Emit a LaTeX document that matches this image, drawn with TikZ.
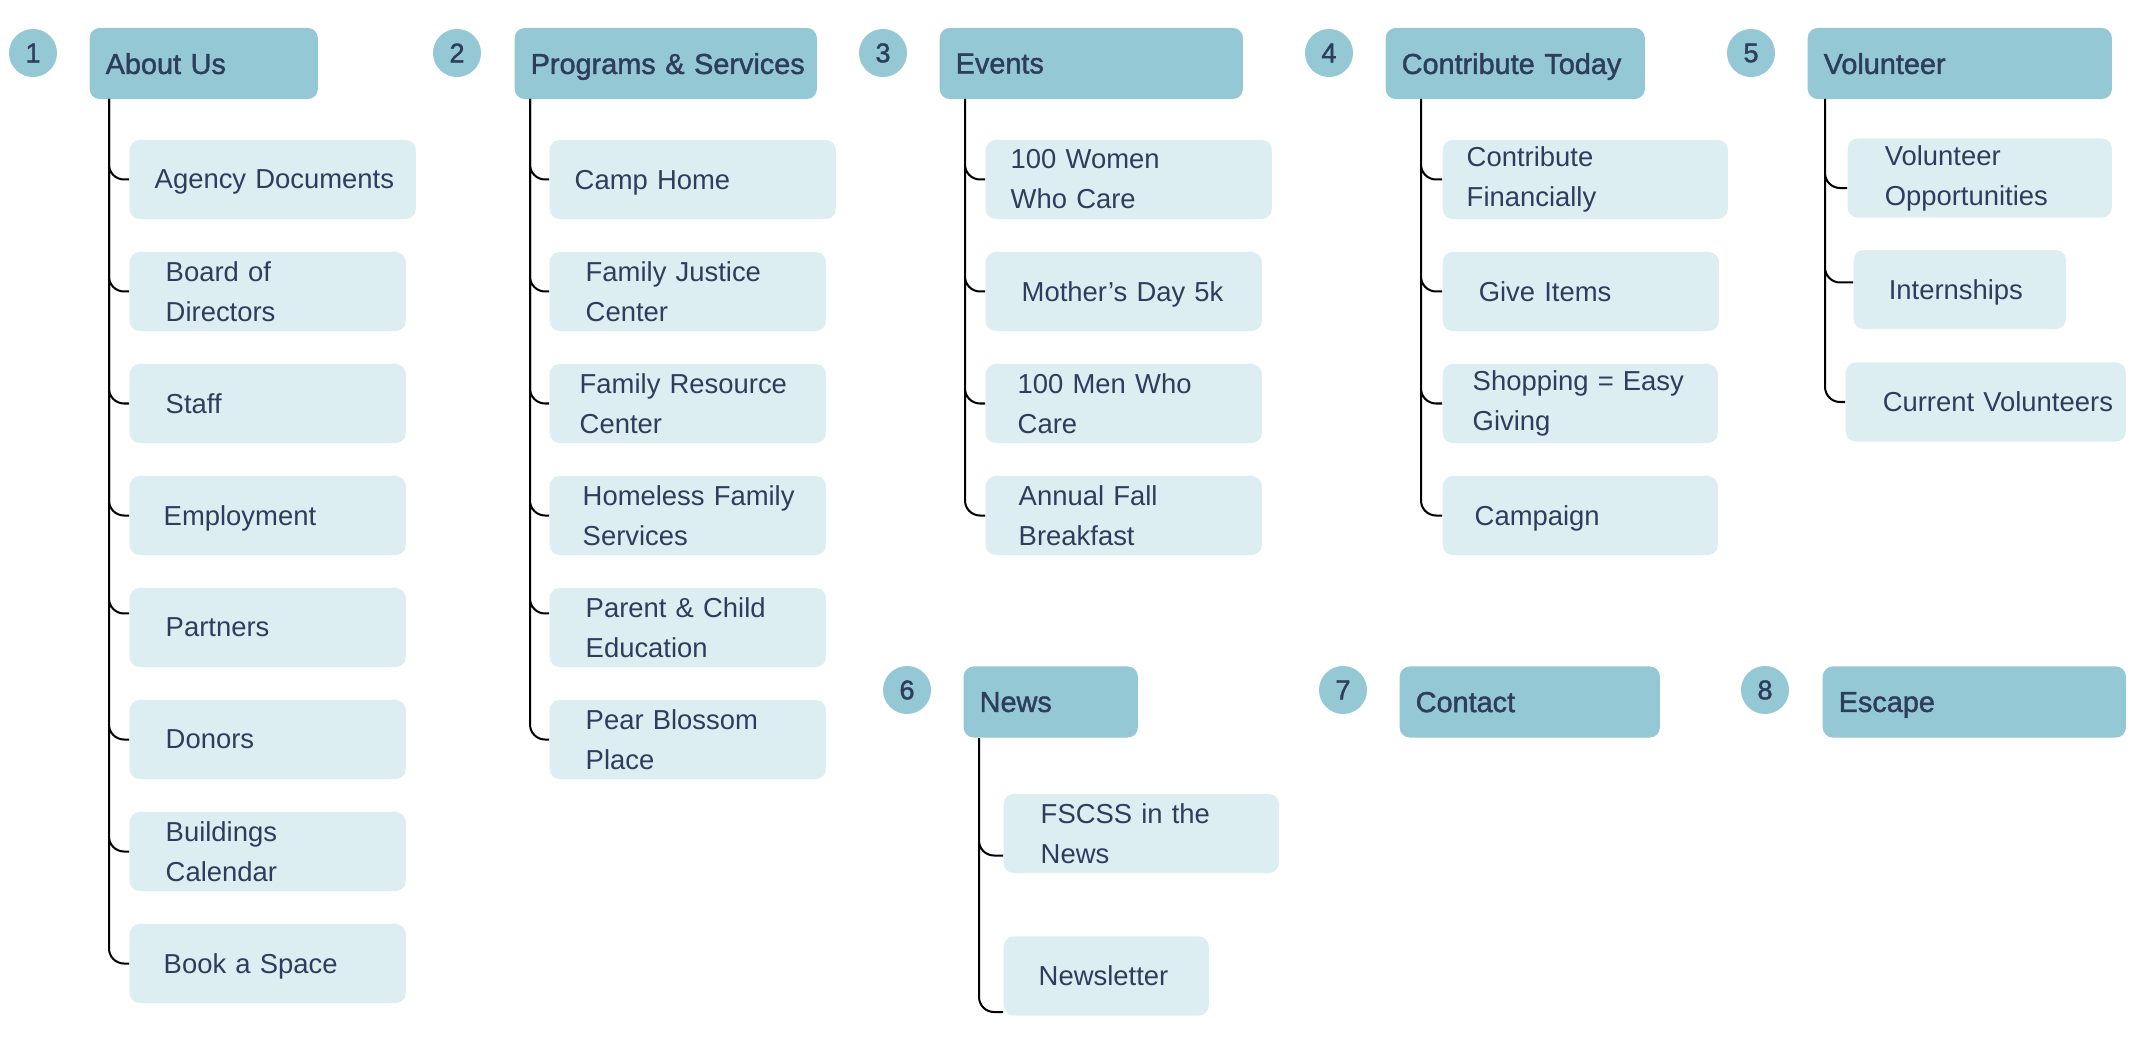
\documentclass[tikz,border=0pt]{standalone}
\usepackage{fontspec}
\setmainfont{Liberation Sans}
\newfontfamily\hdfont[FakeBold=1.5]{Liberation Sans}
\usepackage{tikz}
\definecolor{hdfill}{HTML}{93C8D4}
\definecolor{subfill}{HTML}{DDEEF2}
\definecolor{ink}{HTML}{2F3D5C}
\hyphenpenalty=10000
\begin{document}
\begin{tikzpicture}[x=0.01cm,y=-0.01cm]
\tikzstyle{num}=[circle, inner sep=0pt, fill=hdfill, text=ink, minimum size=0.48cm, font=\hdfont\fontsize{7.7pt}{9pt}\selectfont]
\tikzstyle{hd}=[rectangle, rounded corners=0.1cm, fill=hdfill, text=ink, minimum height=0.71cm, inner xsep=0.16cm, inner ysep=0pt, text depth=0pt, anchor=west, align=left, font=\hdfont\fontsize{8.2pt}{10pt}\selectfont]
\tikzstyle{sub}=[rectangle, rounded corners=0.1cm, fill=subfill, text=ink, minimum height=0.79cm, inner xsep=0.36cm, inner ysep=0pt, text width=2.04cm, anchor=west, align=left, font=\fontsize{7.8pt}{11.38pt}\selectfont]
\tikzstyle{one}=[text depth=0pt]
\tikzstyle{branch}=[line width=0.02cm, rounded corners=0.15cm]
\useasboundingbox (0,0) rectangle (2137,1055);
%1
\def\r{129};
\node[num] (n1) at (33,53) {1};
\node[hd, text width=1.96cm] (h1) at (89,63.5) {About Us};
\coordinate (t1) at (109,99);
\node[sub, one, inner xsep=0.25cm, text width=2.36cm] (a1) at (\r,179.5) {Agency~Documents};
\node[sub] (a2) at (\r,291.5) {Board of\\Directors};
\node[sub, one] (a3) at (\r,403.5) {Staff};
\node[sub, one, inner xsep=0.34cm, text width=2.08cm] (a4) at (\r,515.5) {Employment};
\node[sub, one] (a5) at (\r,627.5) {Partners};
\node[sub, one] (a6) at (\r,739.5) {Donors};
\node[sub] (a7) at (\r,851.5) {Buildings\\Calendar};
\node[sub, one, inner xsep=0.34cm, text width=2.08cm] (a8) at (\r,963.5) {Book~a~Space};
\draw[branch] (t1) |- (a1.west) (t1) |- (a2.west) (t1) |- (a3.west) (t1) |- (a4.west);
\draw[branch] (t1) |- ([yshift=0.14cm]a5.west) (t1) |- (a6.west) (t1) |- (a7.west) (t1) |- (a8.west);
%2
\def\r{549};
\node[num] (n2) at (457,53) {2};
\node[hd, text width=2.70cm] (h2) at (514,63.5) {Programs~\&~Services};
\coordinate (t2) at (530,99);
\node[sub, one, inner xsep=0.25cm, text width=2.36cm] (b1) at (\r,179.5) {Camp~Home};
\node[sub] (b2) at (\r,291.5) {Family~Justice\\Center};
\node[sub, inner xsep=0.30cm, text width=2.16cm] (b3) at (\r,403.5) {Family~Resource\\Center};
\node[sub, inner xsep=0.33cm, text width=2.10cm] (b4) at (\r,515.5) {Homeless~Family\\Services};
\node[sub] (b5) at (\r,627.5) {Parent~\&~Child\\Education};
\node[sub] (b6) at (\r,739.5) {Pear~Blossom\\Place};
\draw[branch] (t2) |- (b1.west) (t2) |- (b2.west) (t2) |- (b3.west);
\draw[branch] (t2) |- (b4.west) (t2) |- ([yshift=0.14cm]b5.west) (t2) |- (b6.west);
%3
\def\r{985};
\node[num] (n3) at (883,53) {3};
\node[hd, text width=2.71cm] (h3) at (939,63.5) {Events};
\coordinate (t3) at (965,99);
\node[sub, inner xsep=0.25cm, text width=2.36cm] (c1) at (\r,179.5) {100~Women\\Who~Care};
\node[sub, one] (c2) at (\r,291.5) {Mother’s~Day~5k};
\node[sub, inner xsep=0.32cm, text width=2.12cm] (c3) at (\r,403.5) {100~Men~Who\\Care};
\node[sub, inner xsep=0.33cm, text width=2.10cm] (c4) at (\r,515.5) {Annual~Fall\\Breakfast};
\draw[branch] (t3) |- (c1.west) (t3) |- (c2.west) (t3) |- (c3.west) (t3) |- (c4.west);
%4
\def\r{1442};
\node[num] (n4) at (1329,53) {4};
\node[hd, text width=2.27cm] (h4) at (1385,63.5) {Contribute~Today};
\coordinate (t4) at (1421,99);
\node[sub, inner xsep=0.24cm, text width=2.37cm] (d1) at (\r,179.5) {Contribute\\Financially};
\node[sub, one] (d2) at (\r,291.5) {Give~Items};
\node[sub, inner xsep=0.30cm, text width=2.15cm] (d3) at (\r,403.5) {Shopping~=~Easy\\Giving};
\node[sub, one, inner xsep=0.32cm, text width=2.11cm] (d4) at (\r,515.5) {Campaign};
\draw[branch] (t4) |- (d1.west) (t4) |- (d2.west) (t4) |- (d3.west) (t4) |- (d4.west);
%5
\node[num] (n5) at (1751,53) {5};
\node[hd, text width=2.72cm] (h5) at (1807,63.5) {Volunteer};
\coordinate (t5) at (1825,99);
\node[sub, inner xsep=0.37cm, text width=1.90cm] (e1) at (1847,178) {Volunteer\\Opportunities};
\node[sub, one, inner xsep=0.35cm, text width=1.42cm] (e2) at (1853,289.5) {Internships};
\node[sub, one, inner xsep=0.37cm, text width=2.06cm] (e3) at (1845,402) {Current~Volunteers};
\draw[branch] (t5) |- ([yshift=-0.10cm]e1.west) (t5) |- ([yshift=0.07cm]e2.west) (t5) |- (e3.west);
%6
\def\r{1003};
\node[num] (n6) at (907,690) {6};
\node[hd, text width=1.42cm] (h6) at (963,702) {News};
\coordinate (t6) at (979,738);
\node[sub, inner xsep=0.37cm, text width=2.01cm] (f1) at (\r,833.5) {FSCSS~in~the\\News};
\node[sub, one, inner xsep=0.35cm, text width=1.35cm] (f2) at (\r,976) {Newsletter};
\draw[branch] (t6) |- ([yshift=-0.22cm]f1.west) (t6) |- ([yshift=-0.36cm]f2.west);
%7
\node[num] (n7) at (1343,690) {7};
\node[hd, text width=2.28cm] (h7) at (1399,702) {Contact};
%8
\node[num] (n8) at (1765,690) {8};
\node[hd, text width=2.71cm] (h8) at (1822,702) {Escape};
\end{tikzpicture}
\end{document}
